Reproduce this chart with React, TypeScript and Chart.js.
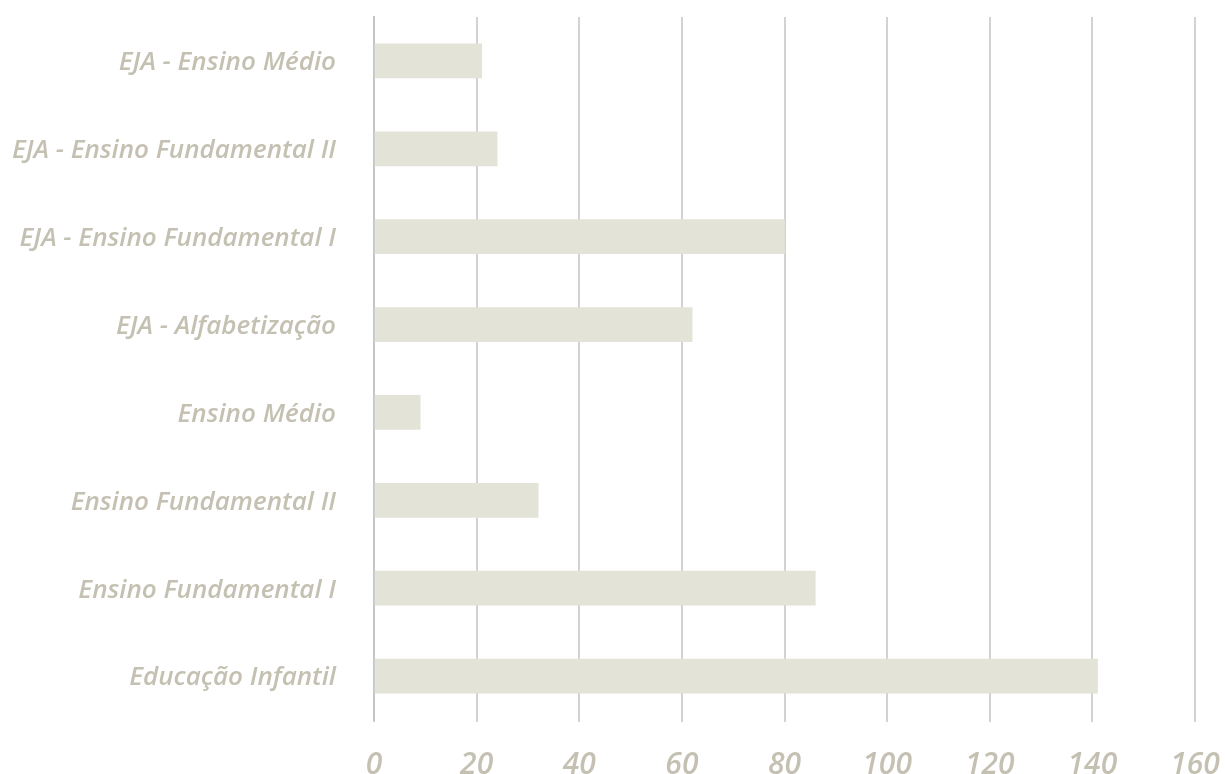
import React, { useEffect, useRef } from "react";
import { Chart, registerables } from "chart.js";

Chart.register(...registerables);

const categories = [
  "EJA - Ensino Médio",
  "EJA - Ensino Fundamental II",
  "EJA - Ensino Fundamental I",
  "EJA - Alfabetização",
  "Ensino Médio",
  "Ensino Fundamental II",
  "Ensino Fundamental I",
  "Educação Infantil",
];
const values = [21, 24, 80, 62, 9, 32, 86, 141];
const xMin = 0;
const xMax = 160;
const xStep = 20;

const TEXT = "#c4c0b2";
const FONT = "'Open Sans', sans-serif";

export default function App() {
  const ref = useRef<HTMLCanvasElement | null>(null);
  useEffect(() => {
    if (!ref.current) return;
    const chart = new Chart(ref.current, {
      type: "bar",
      data: {
        labels: categories,
        datasets: [
          {
            data: values,
            backgroundColor: "#e3e4d7",
            borderWidth: 0,
            barThickness: 34,
          },
        ],
      },
      options: {
        indexAxis: "y",
        animation: false,
        responsive: false,
        maintainAspectRatio: false,
        layout: { padding: { top: 17, right: 30, left: 0, bottom: 0 } },
        plugins: { legend: { display: false }, tooltip: { enabled: false } },
        scales: {
          x: {
            min: xMin,
            max: xMax,
            ticks: {
              stepSize: xStep,
              color: TEXT,
              padding: 25,
              font: { family: FONT, size: 30, style: "italic", weight: 600 },
            },
            grid: { color: "#d2d2d2", lineWidth: 2, drawTicks: true, tickLength: 2 },
            border: { display: false },
            afterFit: (s: any) => {
              s.height = 54;
              s.paddingLeft = 0;
              s.paddingRight = 0;
            },
          },
          y: {
            ticks: {
              color: TEXT,
              padding: 38,
              labelOffset: 2,
              font: { family: FONT, size: 26, style: "italic", weight: 600 },
            },
            grid: { display: false, drawTicks: false },
            border: { display: true, color: "#c2c6ca", width: 2 },
            afterFit: (s: any) => {
              s.width = 374;
              s.paddingTop = 0;
              s.paddingBottom = 0;
            },
          },
        },
      },
    });
    return () => chart.destroy();
  }, []);
  return (
    <div style={{ position: "fixed", left: 0, top: 0, width: 1225, height: 774, background: "#fff" }}>
      <canvas ref={ref} width={1225} height={774} style={{ width: 1225, height: 774 }} />
    </div>
  );
}
